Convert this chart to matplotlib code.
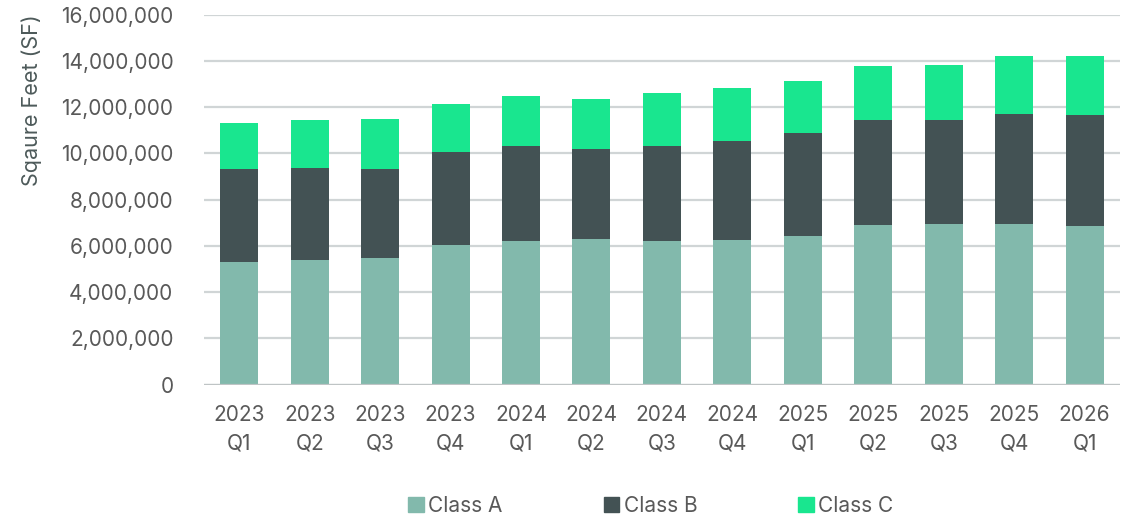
import matplotlib
matplotlib.use("Agg")
import matplotlib.pyplot as plt
from matplotlib.ticker import FuncFormatter
from matplotlib.patches import Patch
import numpy as np

quarters = ["2023\nQ1", "2023\nQ2", "2023\nQ3", "2023\nQ4", "2024\nQ1", "2024\nQ2", "2024\nQ3",
            "2024\nQ4", "2025\nQ1", "2025\nQ2", "2025\nQ3", "2025\nQ4", "2026\nQ1"]
class_a = [5300000, 5380000, 5470000, 6040000, 6230000, 6280000, 6220000,
           6250000, 6430000, 6890000, 6940000, 6940000, 6850000]
class_b = [4030000, 3980000, 3840000, 4010000, 4080000, 3910000, 4100000,
           4290000, 4430000, 4550000, 4500000, 4780000, 4810000]
class_c = [1980000, 2070000, 2160000, 2080000, 2160000, 2160000, 2290000,
           2290000, 2270000, 2320000, 2400000, 2500000, 2530000]

col_a = "#82b9ac"
col_b = "#435254"
col_c = "#19e68f"
txt = "#595959"

plt.rcParams['font.family'] = ['Inter', 'DejaVu Sans']

fig = plt.figure(figsize=(11.35, 5.18), dpi=100)
ax = fig.add_axes([0.1797, 0.2575, 0.807, 0.7143])

x = np.arange(len(quarters))
w = 0.54
a = np.array(class_a)
b = np.array(class_b)
c = np.array(class_c)
ax.bar(x, a, w, color=col_a, zorder=3, label="Class A")
ax.bar(x, b, w, bottom=a, color=col_b, zorder=3, label="Class B")
ax.bar(x, c, w, bottom=a + b, color=col_c, zorder=3, label="Class C")

ax.set_xlim(-0.5, len(quarters) - 0.5)
ax.set_ylim(0, 16000000)
ax.set_yticks(np.arange(0, 16000001, 2000000))
ax.yaxis.set_major_formatter(FuncFormatter(lambda v, p: f"{int(v):,}"))
ax.grid(axis="y", color="#d0d5d6", linewidth=1.6, zorder=0)
ax.axhline(0, color="#bfc4c5", linewidth=1.6, zorder=4)
for s in ax.spines.values():
    s.set_visible(False)
ax.tick_params(axis="y", length=0, pad=22, labelsize=15, labelcolor=txt)
ax.tick_params(axis="x", length=0, pad=15, labelsize=15, labelcolor=txt)
ax.set_xticks(x)
ax.set_xticklabels(quarters, linespacing=1.5)
fig.text(32 / 1135, 1 - 100 / 518, "Sqaure Feet (SF)", rotation=90, ha="center", va="center",
         fontsize=15.5, color="#4d5a5a")

handles = [Patch(color=col_a), Patch(color=col_b), Patch(color=col_c)]
fig.legend(handles, ["Class A", "Class B", "Class C"], loc="center", bbox_to_anchor=(0.5735, 0.023),
           ncol=3, frameon=False, fontsize=15, labelcolor=txt, handlelength=0.75, handleheight=0.75,
           handletextpad=0.2, columnspacing=4.86)

fig.savefig("out.png", dpi=100)
